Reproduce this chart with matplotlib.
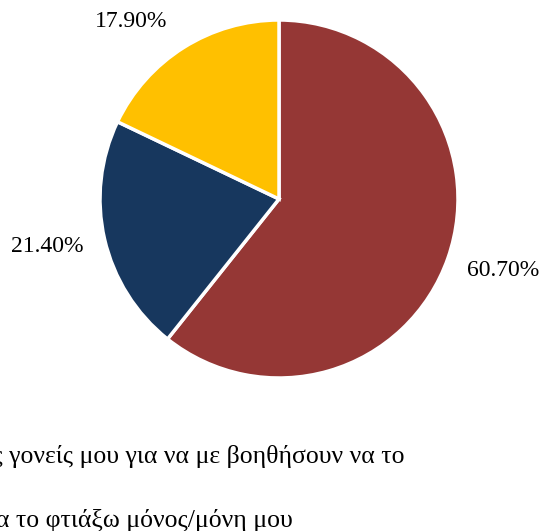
import matplotlib.pyplot as plt

plt.rcParams['font.family'] = ['Liberation Serif', 'DejaVu Serif']

# answer shares (%)
shares = [60.7, 21.4, 17.9]
share_labels = ['60.70%', '21.40%', '17.90%']
slice_colors = ['#953735', '#17375E', '#FFC000']
answers = [
    'Ζητάω από τους γονείς μου για να με βοηθήσουν να το',
    'Προσπαθώ να το φτιάξω μόνος/μόνη μου',
]

fig = plt.figure(figsize=(5.41, 5.31), dpi=100)

# pie centred near (279, 199) px with radius ~179 px
cx, cy, r = 279, 199, 179
W, H = 541, 531
ax = fig.add_axes([(cx - r) / W, 1 - (cy + r) / H, 2 * r / W, 2 * r / H])
wedges, texts = ax.pie(
    shares,
    colors=slice_colors,
    startangle=90,
    counterclock=False,
    labels=share_labels,
    labeldistance=1.31,
    radius=1.0,
    wedgeprops=dict(edgecolor='white', linewidth=2.5),
    textprops=dict(fontsize=17, color='#000000', ha='center', va='center'),
)
# outside labels sit like the spreadsheet places them
label_pos = [(1.251, -0.402), (-1.296, -0.263), (-0.827, 0.989)]
for t, pos in zip(texts, label_pos):
    t.set_position(pos)
    t.set_horizontalalignment('center')
ax.set_xlim(-1, 1)
ax.set_ylim(-1, 1)
ax.set_aspect('equal')

# legend text, its start runs off the left edge
fig.text(405 / W, 1 - 463 / H, answers[0], fontsize=18.5, ha='right', va='baseline')
fig.text(293 / W, 1 - 527 / H, answers[1], fontsize=18.5, ha='right', va='baseline')

fig.savefig('out.png', dpi=100)
